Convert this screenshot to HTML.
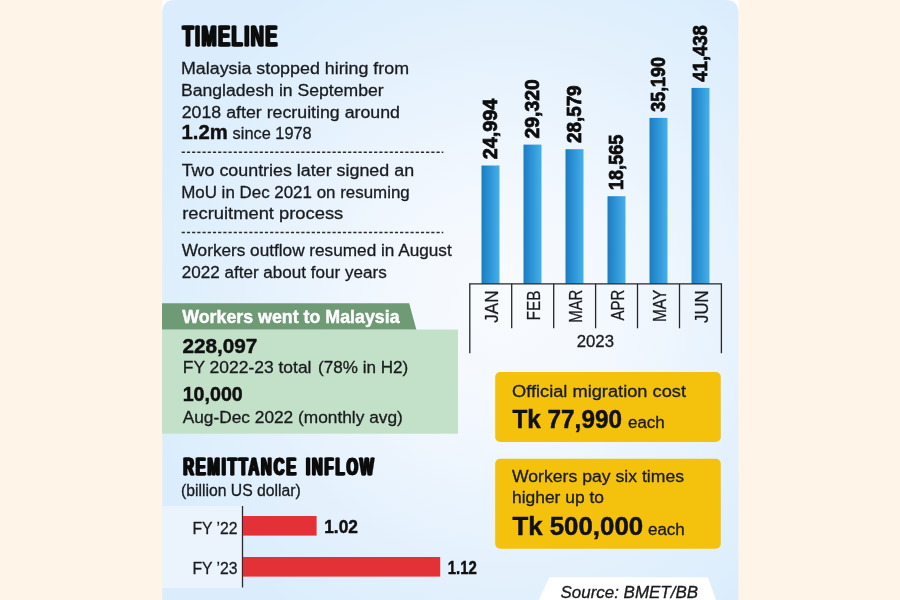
<!DOCTYPE html>
<html lang="en"><head><meta charset="utf-8"><title>Timeline</title>
<style>html,body{margin:0;padding:0;background:#fff4e8;}body{width:900px;height:600px;overflow:hidden;}svg{display:block;font-family:"Liberation Sans", sans-serif;}</style>
</head><body>
<svg width="900" height="600" viewBox="0 0 900 600">
<defs>
<radialGradient id="pg" cx="505" cy="305" r="370" gradientUnits="userSpaceOnUse"><stop offset="0" stop-color="#f8fbfe"/><stop offset="0.3" stop-color="#f3f8fe"/><stop offset="0.65" stop-color="#e6f2fd"/><stop offset="1" stop-color="#dbedfc"/></radialGradient>
<linearGradient id="bg" x1="0" x2="1" y1="0" y2="0"><stop offset="0" stop-color="#1a7cc4"/><stop offset="1" stop-color="#45b0ea"/></linearGradient>
<filter id="fat" x="-3%" y="-20%" width="106%" height="140%" color-interpolation-filters="sRGB"><feOffset in="SourceGraphic" dx="-1.58" result="a"/><feOffset in="SourceGraphic" dx="1.58" result="b"/><feOffset in="SourceGraphic" dx="-0.79" result="c"/><feOffset in="SourceGraphic" dx="0.79" result="d"/><feMerge><feMergeNode in="a"/><feMergeNode in="b"/><feMergeNode in="c"/><feMergeNode in="d"/><feMergeNode in="SourceGraphic"/></feMerge></filter>
</defs>
<rect x="0" y="0" width="900" height="600" fill="#fff4e8"/>
<rect x="162.2" y="0" width="576.3" height="40" fill="#ffffff"/>
<path d="M162.2 600 V13 Q162.2 0 175 0 H725.5 Q738.5 0 738.5 13 V600 Z" fill="url(#pg)"/>
<text transform="translate(182.45,45.6) scale(0.63,1)" font-size="28.8" font-weight="bold" fill="#0d0d0d" stroke="#0d0d0d" stroke-width="0.3" letter-spacing="2.32" word-spacing="0.00" filter="url(#fat)">TIMELINE</text>
<text x="181.0" y="74.4" font-size="17.3" fill="#191b1e" textLength="228.0" lengthAdjust="spacingAndGlyphs" stroke="#191b1e" stroke-width="0.3">Malaysia stopped hiring from</text>
<text x="181.0" y="96.0" font-size="17.3" fill="#191b1e" textLength="202.6" lengthAdjust="spacingAndGlyphs" stroke="#191b1e" stroke-width="0.3">Bangladesh in September</text>
<text x="181.7" y="117.7" font-size="17.3" fill="#191b1e" textLength="218.3" lengthAdjust="spacingAndGlyphs" stroke="#191b1e" stroke-width="0.3">2018 after recruiting around</text>
<text x="181.6" y="139.2" font-size="21" font-weight="bold" fill="#111" textLength="46.1" lengthAdjust="spacingAndGlyphs" stroke="#111" stroke-width="0.45">1.2m</text>
<text x="232.6" y="139.3" font-size="17.3" fill="#191b1e" textLength="79.1" lengthAdjust="spacingAndGlyphs" stroke="#191b1e" stroke-width="0.3">since 1978</text>
<line x1="181.7" y1="152.3" x2="443.3" y2="152.3" stroke="#2a2a2a" stroke-width="1.5" stroke-dasharray="3.2 2"/>
<text x="181.7" y="176.2" font-size="17.3" fill="#191b1e" textLength="232.4" lengthAdjust="spacingAndGlyphs" stroke="#191b1e" stroke-width="0.3">Two countries later signed an</text>
<text x="181.2" y="197.8" font-size="17.3" fill="#191b1e" textLength="228.6" lengthAdjust="spacingAndGlyphs" stroke="#191b1e" stroke-width="0.3">MoU in Dec 2021 on resuming</text>
<text x="182.2" y="219.3" font-size="17.3" fill="#191b1e" textLength="161.1" lengthAdjust="spacingAndGlyphs" stroke="#191b1e" stroke-width="0.3">recruitment process</text>
<line x1="181.7" y1="232.6" x2="443.3" y2="232.6" stroke="#2a2a2a" stroke-width="1.5" stroke-dasharray="3.2 2"/>
<text x="181.7" y="255.7" font-size="17.3" fill="#191b1e" textLength="270.0" lengthAdjust="spacingAndGlyphs" stroke="#191b1e" stroke-width="0.3">Workers outflow resumed in August</text>
<text x="181.7" y="277.8" font-size="17.3" fill="#191b1e" textLength="205.0" lengthAdjust="spacingAndGlyphs" stroke="#191b1e" stroke-width="0.3">2022 after about four years</text>
<rect x="162" y="329.5" width="296" height="104.2" fill="#c3e1c8"/>
<path d="M162 303.3 H409.2 L416.3 329.5 H162 Z" fill="#6e9b75"/>
<text x="182.2" y="322.7" font-size="18.6" font-weight="bold" fill="#ffffff" textLength="217.4" lengthAdjust="spacingAndGlyphs" stroke="#ffffff" stroke-width="0.45">Workers went to Malaysia</text>
<text x="182.4" y="352.9" font-size="19.8" font-weight="bold" fill="#111" textLength="75.0" lengthAdjust="spacingAndGlyphs" stroke="#111" stroke-width="0.45">228,097</text>
<text x="182.8" y="373.3" font-size="16.7" fill="#191b1e" textLength="128.7" lengthAdjust="spacingAndGlyphs" stroke="#191b1e" stroke-width="0.3">FY 2022-23 total</text>
<text x="318.0" y="373.3" font-size="16.7" fill="#191b1e" textLength="90.2" lengthAdjust="spacingAndGlyphs" stroke="#191b1e" stroke-width="0.3">(78% in H2)</text>
<text x="182.7" y="401.3" font-size="19.8" font-weight="bold" fill="#111" textLength="60.1" lengthAdjust="spacingAndGlyphs" stroke="#111" stroke-width="0.45">10,000</text>
<text x="182.7" y="422.6" font-size="16.7" fill="#191b1e" textLength="220.1" lengthAdjust="spacingAndGlyphs" stroke="#191b1e" stroke-width="0.3">Aug-Dec 2022 (monthly avg)</text>
<text transform="translate(183.15,474.7) scale(0.63,1)" font-size="23.5" font-weight="bold" fill="#0d0d0d" stroke="#0d0d0d" stroke-width="0.3" letter-spacing="3.01" word-spacing="3.17" filter="url(#fat)">REMITTANCE INFLOW</text>
<text x="181.0" y="496.0" font-size="16" fill="#191b1e" textLength="119.8" lengthAdjust="spacingAndGlyphs" stroke="#191b1e" stroke-width="0.3">(billion US dollar)</text>
<rect x="162" y="506" width="80.4" height="82" fill="#ebf3fc"/>
<line x1="242.5" y1="506" x2="242.5" y2="587.5" stroke="#2a2a2a" stroke-width="1.3"/>
<rect x="243" y="516" width="73.6" height="19.6" fill="#e23237"/>
<rect x="243" y="557" width="197.2" height="19.6" fill="#e23237"/>
<text x="192.4" y="533.6" font-size="17" fill="#191b1e" textLength="45.2" lengthAdjust="spacingAndGlyphs" stroke="#191b1e" stroke-width="0.3">FY ’22</text>
<text x="192.4" y="574.4" font-size="17" fill="#191b1e" textLength="45.2" lengthAdjust="spacingAndGlyphs" stroke="#191b1e" stroke-width="0.3">FY ’23</text>
<text x="324.2" y="532.6" font-size="17.5" font-weight="bold" fill="#111" textLength="33.7" lengthAdjust="spacingAndGlyphs" stroke="#111" stroke-width="0.45">1.02</text>
<text x="447.8" y="574.0" font-size="17.5" font-weight="bold" fill="#111" textLength="29.1" lengthAdjust="spacingAndGlyphs" stroke="#111" stroke-width="0.45">1.12</text>
<rect x="481.5" y="165.5" width="18" height="118.3" fill="url(#bg)"/>
<text transform="translate(496.7,159.3) rotate(-90)" font-size="20.2" font-weight="bold" fill="#0d0d0d" stroke="#0d0d0d" stroke-width="0.8" textLength="60.6" lengthAdjust="spacingAndGlyphs">24,994</text>
<text transform="translate(497.7,306.6) rotate(-90)" font-size="18.2" text-anchor="middle" fill="#191b1e" stroke="#191b1e" stroke-width="0.25" textLength="32.2" lengthAdjust="spacingAndGlyphs">JAN</text>
<rect x="523.5" y="144.6" width="18" height="139.2" fill="url(#bg)"/>
<text transform="translate(538.7,138.4) rotate(-90)" font-size="20.2" font-weight="bold" fill="#0d0d0d" stroke="#0d0d0d" stroke-width="0.8" textLength="59.1" lengthAdjust="spacingAndGlyphs">29,320</text>
<text transform="translate(539.7,305.5) rotate(-90)" font-size="18.2" text-anchor="middle" fill="#191b1e" stroke="#191b1e" stroke-width="0.25" textLength="30.0" lengthAdjust="spacingAndGlyphs">FEB</text>
<rect x="565.5" y="149.2" width="18" height="134.6" fill="url(#bg)"/>
<text transform="translate(580.7,143.0) rotate(-90)" font-size="20.2" font-weight="bold" fill="#0d0d0d" stroke="#0d0d0d" stroke-width="0.8" textLength="57.6" lengthAdjust="spacingAndGlyphs">28,579</text>
<text transform="translate(581.7,306.2) rotate(-90)" font-size="18.2" text-anchor="middle" fill="#191b1e" stroke="#191b1e" stroke-width="0.25" textLength="33.0" lengthAdjust="spacingAndGlyphs">MAR</text>
<rect x="607.5" y="196.2" width="18" height="87.6" fill="url(#bg)"/>
<text transform="translate(622.7,190.0) rotate(-90)" font-size="20.2" font-weight="bold" fill="#0d0d0d" stroke="#0d0d0d" stroke-width="0.8" textLength="55.3" lengthAdjust="spacingAndGlyphs">18,565</text>
<text transform="translate(623.7,305.1) rotate(-90)" font-size="18.2" text-anchor="middle" fill="#191b1e" stroke="#191b1e" stroke-width="0.25" textLength="30.8" lengthAdjust="spacingAndGlyphs">APR</text>
<rect x="649.5" y="117.9" width="18" height="165.9" fill="url(#bg)"/>
<text transform="translate(664.7,111.7) rotate(-90)" font-size="20.2" font-weight="bold" fill="#0d0d0d" stroke="#0d0d0d" stroke-width="0.8" textLength="54.6" lengthAdjust="spacingAndGlyphs">35,190</text>
<text transform="translate(665.7,305.9) rotate(-90)" font-size="18.2" text-anchor="middle" fill="#191b1e" stroke="#191b1e" stroke-width="0.25" textLength="32.3" lengthAdjust="spacingAndGlyphs">MAY</text>
<rect x="691.5" y="87.9" width="18" height="195.9" fill="url(#bg)"/>
<text transform="translate(706.7,81.7) rotate(-90)" font-size="20.2" font-weight="bold" fill="#0d0d0d" stroke="#0d0d0d" stroke-width="0.8" textLength="56.6" lengthAdjust="spacingAndGlyphs">41,438</text>
<text transform="translate(707.7,306.7) rotate(-90)" font-size="18.2" text-anchor="middle" fill="#191b1e" stroke="#191b1e" stroke-width="0.25" textLength="32.5" lengthAdjust="spacingAndGlyphs">JUN</text>
<g stroke="#262626" stroke-width="1.3" fill="none">
<line x1="469.2" y1="283.8" x2="722" y2="283.8"/>
<line x1="469.8" y1="283.8" x2="469.8" y2="353.2"/>
<line x1="511.7" y1="283.8" x2="511.7" y2="328.3"/>
<line x1="553.7" y1="283.8" x2="553.7" y2="328.3"/>
<line x1="595.6" y1="283.8" x2="595.6" y2="328.3"/>
<line x1="637.5" y1="283.8" x2="637.5" y2="328.3"/>
<line x1="679.5" y1="283.8" x2="679.5" y2="328.3"/>
<line x1="721.4" y1="283.8" x2="721.4" y2="353.2"/>
</g>
<text x="576.7" y="346.9" font-size="16.8" fill="#191b1e" textLength="37.3" lengthAdjust="spacingAndGlyphs" stroke="#191b1e" stroke-width="0.3">2023</text>
<rect x="495.2" y="372" width="225.6" height="70" rx="5" fill="#f4c20d"/>
<rect x="495.2" y="458.8" width="225.6" height="90" rx="5" fill="#f4c20d"/>
<text x="512.0" y="397.2" font-size="17.3" fill="#191b1e" textLength="174.0" lengthAdjust="spacingAndGlyphs" stroke="#191b1e" stroke-width="0.3">Official migration cost</text>
<text x="512.4" y="428.2" font-size="25.4" font-weight="bold" fill="#111" textLength="109.6" lengthAdjust="spacingAndGlyphs" stroke="#111" stroke-width="0.45">Tk 77,990</text>
<text x="628.0" y="428.3" font-size="17.3" fill="#191b1e" textLength="36.8" lengthAdjust="spacingAndGlyphs" stroke="#191b1e" stroke-width="0.3">each</text>
<text x="512.0" y="481.6" font-size="17.3" fill="#191b1e" textLength="172.0" lengthAdjust="spacingAndGlyphs" stroke="#191b1e" stroke-width="0.3">Workers pay six times</text>
<text x="512.0" y="503.2" font-size="17.3" fill="#191b1e" textLength="92.0" lengthAdjust="spacingAndGlyphs" stroke="#191b1e" stroke-width="0.3">higher up to</text>
<text x="512.4" y="534.7" font-size="25.4" font-weight="bold" fill="#111" textLength="130.8" lengthAdjust="spacingAndGlyphs" stroke="#111" stroke-width="0.45">Tk 500,000</text>
<text x="648.0" y="534.8" font-size="17.3" fill="#191b1e" textLength="36.8" lengthAdjust="spacingAndGlyphs" stroke="#191b1e" stroke-width="0.3">each</text>
<path d="M549.3 577.3 H708 L716 600 H538.7 Z" fill="#ffffff"/>
<text x="560.5" y="597.8" font-size="16.5" font-style="italic" fill="#191b1e" textLength="137.5" lengthAdjust="spacingAndGlyphs" stroke="#191b1e" stroke-width="0.3">Source: BMET/BB</text>
</svg>
</body></html>
